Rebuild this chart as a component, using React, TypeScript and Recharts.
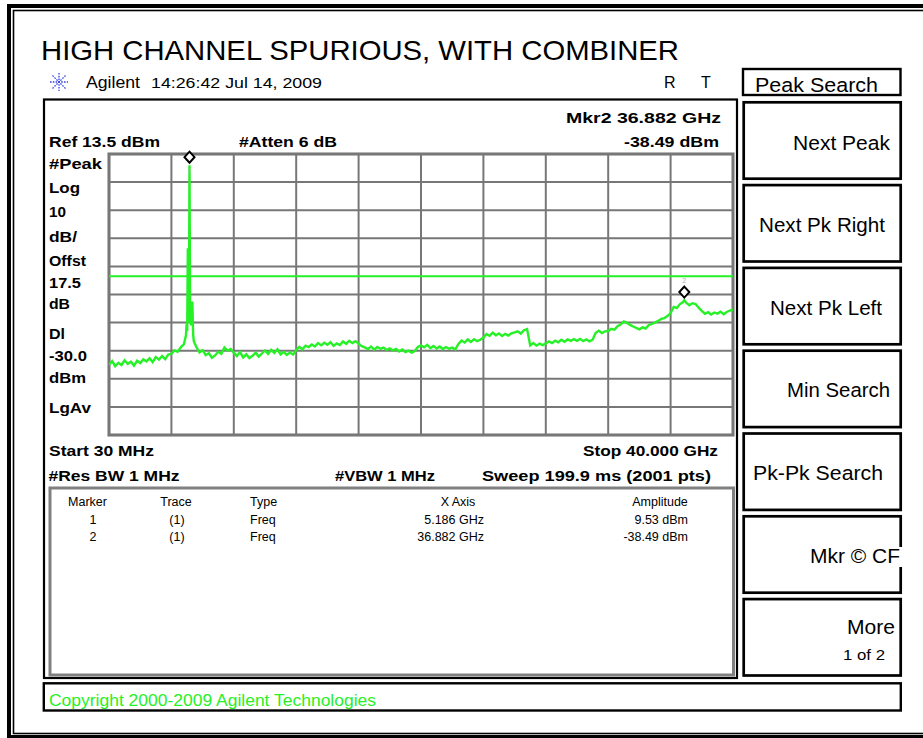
import { ComposedChart, Line, XAxis, YAxis, CartesianGrid, ReferenceLine, ReferenceDot } from "recharts";

// sweep settings
const START_GHZ = 0.03;
const STOP_GHZ = 40.0;
const REF_DBM = 13.5;
const BOTTOM_DBM = -86.5; // ref - 10 div * 10 dB
const DISPLAY_LINE_DBM = -30.0;

// 10 divisions each way
const freqTicks = [0.03, 4.027, 8.024, 12.021, 16.018, 20.015, 24.012, 28.009, 32.006, 36.003, 40.0];
const levelTicks = [13.5, 3.5, -6.5, -16.5, -26.5, -36.5, -46.5, -56.5, -66.5, -76.5, -86.5];

// trace level (dBm), one reading every ~0.2 GHz across the sweep
const sweepLevels = [
  -61.5, -60.2, -62.0, -60.8, -61.6, -59.9, -61.2, -60.4, -61.8, -60.1,
  -60.9, -59.6, -60.3, -59.2, -60.6, -58.8, -59.7, -58.4, -59.5, -57.9,
  -57.6, -56.4, -56.9, -55.3, -54.2, -48.5, -46.5, -51.0, -55.2, -57.1,
  -56.3, -58.1, -57.4, -59.0, -58.2, -56.9, -57.6, -55.4, -56.5, -55.9,
  -57.2, -58.4, -57.0, -58.9, -57.8, -59.1, -58.3, -57.2, -58.6, -57.5,
  -56.4, -57.6, -56.2, -57.3, -56.0, -57.8, -56.9, -58.0, -57.1, -57.9,
  -56.3, -55.1, -56.0, -54.7, -55.2, -54.3, -55.0, -53.8, -54.6, -53.7,
  -54.4, -53.5, -54.8, -53.9, -54.5, -53.2, -54.1, -53.0, -53.8, -53.1,
  -54.0, -54.9, -55.3, -55.9, -55.0, -56.1, -55.2, -55.8, -55.4, -56.2,
  -55.7, -56.4, -55.9, -56.8, -56.1, -57.0, -56.5, -57.2, -56.6, -55.2,
  -54.6, -55.3, -54.4, -55.6, -54.8, -55.7, -55.0, -55.9, -55.2, -55.8,
  -55.4, -56.0, -54.1, -52.9, -53.6, -52.5, -53.4, -52.4, -53.1, -52.6,
  -51.8, -50.6, -51.2, -50.1, -51.0, -50.4, -51.3, -50.5, -51.1, -50.3,
  -50.0, -49.6, -50.4, -49.2, -48.8, -54.6, -53.8, -54.7, -54.0, -54.5,
  -53.9, -53.2, -53.8, -52.9, -53.5, -52.6, -53.3, -52.5, -53.0, -52.4,
  -53.0, -52.3, -53.1, -52.5, -53.2, -52.6, -50.1, -49.4, -50.2, -49.6,
  -49.5, -48.7, -49.0, -47.8, -47.2, -46.1, -46.6, -47.3, -47.9, -48.4,
  -48.9, -48.2, -48.6, -47.4, -47.0, -46.5, -45.9, -45.2, -44.9, -44.2,
  -43.1, -40.9, -41.3, -39.9, -39.2, -39.4, -40.3, -39.6, -39.9, -41.2,
  -42.3, -43.4, -42.8, -43.6, -42.9, -43.3, -42.6, -43.5, -42.7, -42.2,
  -41.9,
];

// carrier spike cluster around marker 1 (GHz, dBm)
const carrierBurst: [number, number][] = [
  [4.96, -51.0], [5.0, -47.0], [5.04, -49.5], [5.08, -20.0], [5.11, -46.5],
  [5.15, -44.0], [5.186, 9.53], [5.24, -45.0], [5.29, -47.5], [5.33, -43.0],
  [5.37, -39.0], [5.41, -49.0], [5.46, -53.0],
];

const markerFreqs = [5.186, 36.882];
const markerLevels = [9.53, -38.49];

const sweepStep = (STOP_GHZ - START_GHZ) / (sweepLevels.length - 1);
const trace = [
  ...sweepLevels.map((dbm, i) => ({ f: START_GHZ + i * sweepStep, dbm })),
  ...carrierBurst.map(([f, dbm]) => ({ f, dbm })),
  { f: markerFreqs[1], dbm: markerLevels[1] },
].sort((a, b) => a.f - b.f);

const SANS = "'Liberation Sans', Arial, Helvetica, sans-serif";
const NARROW = "'Liberation Sans Narrow', 'Arial Narrow', 'Liberation Sans', Arial, sans-serif";
const GREEN = "#26f026";

function Txt({ x, y, w, size = 16, bold = false, anchor = "start", fill = "#000", family = SANS, children }: any) {
  return (
    <text
      x={x}
      y={y}
      fontSize={size}
      fontWeight={bold ? 700 : 400}
      fontFamily={family}
      fill={fill}
      textAnchor={anchor}
      textLength={w}
      lengthAdjust={w ? "spacingAndGlyphs" : undefined}
    >
      {children}
    </text>
  );
}

// marker diamond sits just above the trace point
function MarkerDiamond(props: any) {
  const { cx, cy, num } = props;
  const y = cy - 8;
  const labelY = num === 1 ? cy + 8 : cy - 17;
  return (
    <g>
      <polygon points={`${cx},${y - 5.5} ${cx + 5},${y} ${cx},${y + 5.5} ${cx - 5},${y}`} fill="#fff" stroke="#000" strokeWidth={2} />
      <text x={cx} y={labelY} fontSize={7} fill="#b0b0b0" textAnchor="middle" fontFamily={SANS}>{num}</text>
    </g>
  );
}

const leftLabels: [string, number, number][] = [
  ["#Peak", 168.5, 53], ["Log", 193, 31], ["10", 217, 17], ["dB/", 241.5, 28],
  ["Offst", 266, 37], ["17.5", 288, 32], ["dB", 309, 21], ["Dl", 339, 16],
  ["-30.0", 361, 38], ["dBm", 383, 37], ["LgAv", 412.5, 42],
];

const softkeys: [string, number, number, number][] = [
  ["Next Peak", 793, 97, 150],
  ["Next Pk Right", 759, 126, 232],
  ["Next Pk Left", 770, 112, 315],
  ["Min Search", 787, 103, 397],
  ["Pk-Pk Search", 753, 130, 480],
  ["Mkr © CF", 810, 90, 563],
  ["More", 847, 48, 634],
];

export default function App() {
  return (
    <div style={{ position: "absolute", left: 0, top: 0, width: 923, height: 738, background: "#fff", overflow: "hidden" }}>
      <svg width={923} height={738} style={{ position: "absolute", left: 0, top: 0 }}>
        {/* outer double frame */}
        <rect x={9} y={6} width={940} height={731} fill="none" stroke="#000" strokeWidth={4} />
        <rect x={13.5} y={10.5} width={930} height={723} fill="none" stroke="#000" strokeWidth={1.6} />

        <Txt x={41} y={60} size={28.5} w={638}>HIGH CHANNEL SPURIOUS, WITH COMBINER</Txt>

        {/* agilent logo */}
        <g stroke="#3344dd" strokeWidth={1.3} strokeDasharray="1.6 1.2">
          <line x1={50} y1={82} x2={68} y2={82} />
          <line x1={59} y1={73} x2={59} y2={91} />
          <line x1={52.5} y1={75.5} x2={65.5} y2={88.5} />
          <line x1={65.5} y1={75.5} x2={52.5} y2={88.5} />
        </g>
        <Txt x={86} y={88} size={16} w={54}>Agilent</Txt>
        <Txt x={151} y={88} size={15.5} w={171}>14:26:42  Jul 14, 2009</Txt>
        <Txt x={664} y={88} size={16}>R</Txt>
        <Txt x={701} y={88} size={16}>T</Txt>

        {/* main display panel */}
        <rect x={44} y={99.5} width={693} height={578.5} fill="none" stroke="#000" strokeWidth={2.2} />
        <Txt x={566} y={123} size={15.5} bold w={155} family={NARROW}>Mkr2  36.882 GHz</Txt>
        <Txt x={49} y={146.5} size={15.5} bold w={111} family={NARROW}>Ref 13.5 dBm</Txt>
        <Txt x={239} y={146.5} size={15.5} bold w={98} family={NARROW}>#Atten 6 dB</Txt>
        <Txt x={624} y={146.5} size={15.5} bold w={95} family={NARROW}>-38.49 dBm</Txt>
        {leftLabels.map(([t, y, w]) => (
          <Txt key={t} x={49} y={y} size={15.5} bold w={w} family={NARROW}>{t}</Txt>
        ))}
        <rect x={109} y={154} width={624} height={281} fill="none" stroke="#6e6e6e" strokeWidth={3} />
        <Txt x={49} y={456} size={15.5} bold w={105} family={NARROW}>Start 30 MHz</Txt>
        <Txt x={583} y={456} size={15.5} bold w={135} family={NARROW}>Stop 40.000 GHz</Txt>
        <Txt x={48.5} y={481} size={15.5} bold w={131} family={NARROW}>#Res BW 1 MHz</Txt>
        <Txt x={335} y={481} size={15.5} bold w={100} family={NARROW}>#VBW 1 MHz</Txt>
        <Txt x={482} y={481} size={15.5} bold w={229} family={NARROW}>Sweep 199.9 ms (2001 pts)</Txt>

        {/* marker table */}
        <rect x={50} y={488} width={683.5} height={187} fill="none" stroke="#808080" strokeWidth={3} />
        <Txt x={87.5} y={506} size={12.5} anchor="middle">Marker</Txt>
        <Txt x={176} y={506} size={12.5} anchor="middle">Trace</Txt>
        <Txt x={250} y={506} size={12.5}>Type</Txt>
        <Txt x={458} y={506} size={12.5} anchor="middle">X Axis</Txt>
        <Txt x={660} y={506} size={12.5} anchor="middle">Amplitude</Txt>
        {markerFreqs.map((f, i) => {
          const y = 524 + i * 17;
          return (
            <g key={i}>
              <Txt x={93} y={y} size={12.5} anchor="middle">{String(i + 1)}</Txt>
              <Txt x={177} y={y} size={12.5} anchor="middle">(1)</Txt>
              <Txt x={250} y={y} size={12.5}>Freq</Txt>
              <Txt x={484} y={y} size={12.5} anchor="end">{`${f.toFixed(3)} GHz`}</Txt>
              <Txt x={688} y={y} size={12.5} anchor="end">{`${markerLevels[i].toFixed(2)} dBm`}</Txt>
            </g>
          );
        })}

        {/* softkeys */}
        <rect x={743} y={69} width={157.5} height={26} fill="none" stroke="#000" strokeWidth={2.4} />
        <Txt x={755} y={92} size={20.5} w={123}>Peak Search</Txt>
        {softkeys.map(([label, x, w, y], k) => {
          const top = 102.3 + k * 82.8;
          return (
            <g key={label}>
              <rect x={743.7} y={top} width={157} height={76.4} fill="none" stroke="#000" strokeWidth={2.7} />
              {label === "Mkr © CF" && <rect x={898} y={547} width={6} height={20} fill="#fff" />}
              <Txt x={x} y={y} size={20.5} w={w}>{label}</Txt>
            </g>
          );
        })}
        <Txt x={843} y={660} size={15.5} w={42}>1 of 2</Txt>

        {/* copyright bar */}
        <rect x={43.8} y={683.3} width={857} height={27.2} fill="none" stroke="#000" strokeWidth={2.4} />
        <Txt x={49} y={706} size={16} w={327} fill={GREEN}>Copyright 2000-2009 Agilent Technologies</Txt>
      </svg>

      <div style={{ position: "absolute", left: 0, top: 0 }}>
        <ComposedChart width={923} height={738} data={trace} margin={{ top: 154, right: 190, bottom: 303, left: 109 }}>
          <CartesianGrid stroke="#777" strokeWidth={2} />
          <XAxis type="number" dataKey="f" domain={[START_GHZ, STOP_GHZ]} ticks={freqTicks} hide allowDataOverflow />
          <YAxis type="number" domain={[BOTTOM_DBM, REF_DBM]} ticks={levelTicks} hide allowDataOverflow />
          <ReferenceLine y={DISPLAY_LINE_DBM} stroke={GREEN} strokeWidth={1.8} />
          <Line type="linear" dataKey="dbm" stroke={GREEN} strokeWidth={2.4} dot={false} activeDot={false} isAnimationActive={false} />
          {markerFreqs.map((f, i) => (
            <ReferenceDot
              key={f}
              x={f}
              y={markerLevels[i]}
              r={5}
              shape={(p: any) => <MarkerDiamond {...p} num={i + 1} />}
            />
          ))}
        </ComposedChart>
      </div>
    </div>
  );
}
